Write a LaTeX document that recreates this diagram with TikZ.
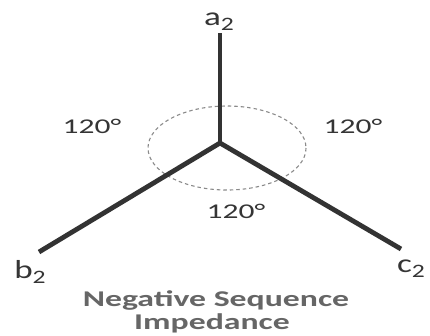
\documentclass[tikz,border=0pt]{standalone}
\usepackage{fontspec}
\setmainfont{Carlito}
\definecolor{linec}{HTML}{333333}
\definecolor{textc}{HTML}{353535}
\definecolor{titlec}{HTML}{666666}
\definecolor{dashc}{HTML}{8A8A8A}
\tikzset{
  arm/.style={line width=4.8pt, draw=linec},
  ang/.style={xscale=1.5, transform shape, anchor=base, font=\fontsize{21}{24}\selectfont, text=textc, inner sep=0pt},
  endlab/.style={xscale=1.35, transform shape, anchor=base, font=\fontsize{26}{28}\selectfont, text=textc, inner sep=0pt},
  title/.style={xscale=1.5, transform shape, anchor=base, font=\bfseries\fontsize{22.5}{25}\selectfont, text=titlec, inner sep=0pt},
}
\newcommand{\subtwo}{{\fontsize{19}{19}\selectfont\raisebox{-5pt}{2}}}
\begin{document}
\begin{tikzpicture}[x=1pt,y=-1pt]
\useasboundingbox (0,0) rectangle (430,335);
\fill[white] (0,0) rectangle (430,335);
\coordinate (O) at (220,143);
\coordinate (A) at (220,33);
\coordinate (B) at (39,252);
\coordinate (C) at (401,249);
\draw[dashc, line width=1.1pt, dash pattern=on 3.5pt off 3pt] (227,148) ellipse [x radius=79, y radius=42];
\draw[arm] (O) -- (A);
\draw[arm] (O) -- (B);
\draw[arm] (O) -- (C);
\node[endlab] (la) at (219,25) {a\subtwo};
\node[endlab] (lb) at (30,278) {b\subtwo};
\node[endlab] (lc) at (411,272) {c\subtwo};
\node[ang] (t1) at (92,133) {120°};
\node[ang] (t2) at (353,133) {120°};
\node[ang] (t3) at (236,218) {120°};
\node[title] (tt1) at (216,306.5) {Negative Sequence};
\node[title] (tt2) at (212,329) {Impedance};
\end{tikzpicture}
\end{document}
